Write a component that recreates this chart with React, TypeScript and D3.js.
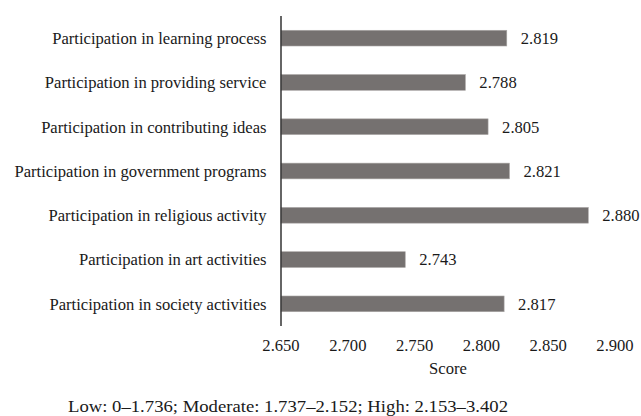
import React from "react";
import * as d3 from "d3";

const categories = [
  "Participation in learning process",
  "Participation in providing service",
  "Participation in contributing ideas",
  "Participation in government programs",
  "Participation in religious activity",
  "Participation in art activities",
  "Participation in society activities",
];
const values = [2.819, 2.788, 2.805, 2.821, 2.88, 2.743, 2.817];
const xTicks = [2.65, 2.7, 2.75, 2.8, 2.85, 2.9];
const xTitle = "Score";
const note = "Low: 0–1.736; Moderate: 1.737–2.152; High: 2.153–3.402";

export default function App() {
  const W = 641, H = 416;
  const left = 281, right = 615, top = 16, bottom = 326;
  const x = d3.scaleLinear().domain([2.65, 2.9]).range([left, right]);
  const y = d3.scaleBand<string>().domain(categories).range([top, bottom]).paddingInner(0.645).paddingOuter(0.3225);
  const ff = "Liberation Serif, Times New Roman, Times, serif";
  const ts: React.CSSProperties = { fontFamily: ff, fontSize: 16.6 };
  return (
    <svg width={W} height={H} style={{ position: "absolute", left: 0, top: 0, background: "#fff" }}>
      {categories.map((c, i) => (
        <g key={c}>
          <rect x={x(2.65)} y={y(c)!} width={x(values[i]) - x(2.65)} height={y.bandwidth()} fill="#757170" stroke="#a9a6a5" strokeWidth={0.6} />
          <text x={x(values[i]) + 14} y={y(c)! + y.bandwidth() / 2} dy="0.35em" style={ts} fill="#1a1a1a">{values[i].toFixed(3)}</text>
          <text x={266.5} y={y(c)! + y.bandwidth() / 2} dy="0.35em" style={ts} textAnchor="end" fill="#1a1a1a">{c}</text>
        </g>
      ))}
      <line x1={left} x2={left} y1={top} y2={bottom} stroke="#333" strokeWidth={1.5} />
      {xTicks.map((t) => (
        <text key={t} x={x(t)} y={351} textAnchor="middle" style={ts} fill="#1a1a1a">{t.toFixed(3)}</text>
      ))}
      <text x={(left + right) / 2} y={374} textAnchor="middle" style={ts} fill="#1a1a1a">{xTitle}</text>
      <text x={68} y={412} style={{ fontFamily: ff, fontSize: 16.6 }} textLength={440} lengthAdjust="spacingAndGlyphs" fill="#1a1a1a">{note}</text>
    </svg>
  );
}
